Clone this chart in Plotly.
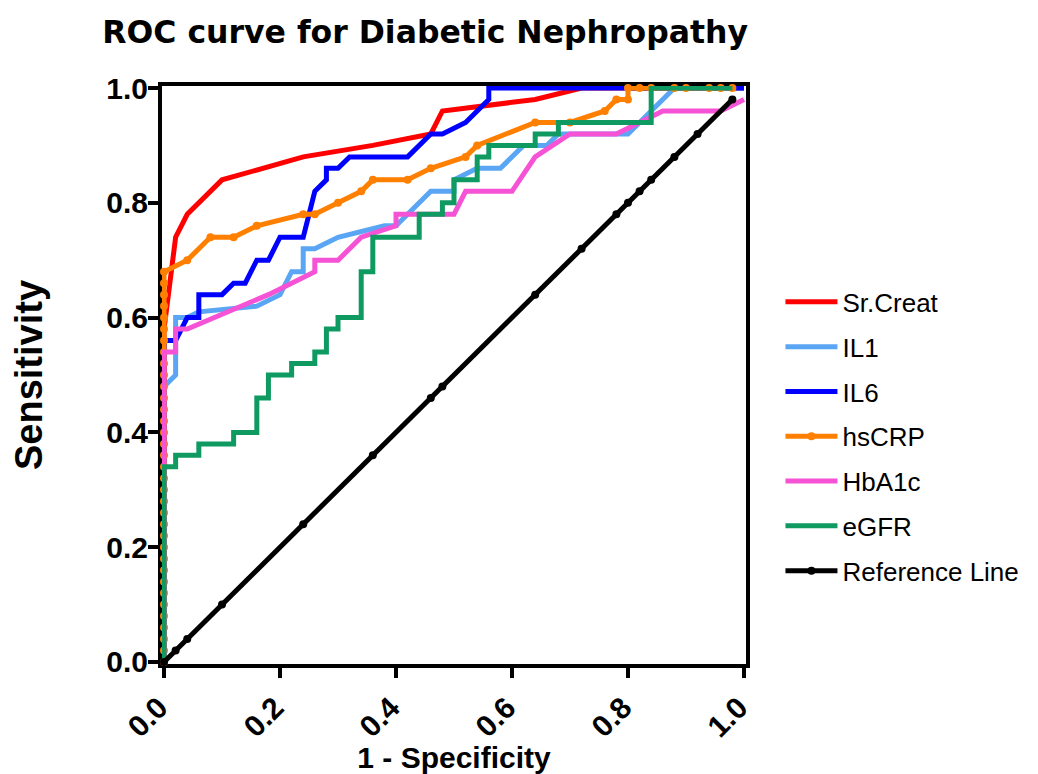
import plotly.graph_objects as go

# ---- data ----
sr_creat_x = [0, 0, 0.02, 0.04, 0.10, 0.24, 0.36, 0.46, 0.48, 0.64, 0.72, 1.0]
sr_creat_y = [0, 0.58, 0.74, 0.78, 0.84, 0.88, 0.90, 0.92, 0.96, 0.98, 1.0, 1.0]

il1_x = [0, 0, 0.02, 0.02, 0.04, 0.06, 0.16, 0.20, 0.22, 0.24, 0.24, 0.26, 0.30, 0.38, 0.40,
         0.46, 0.50, 0.50, 0.54, 0.58, 0.62, 0.66, 0.68, 0.80, 0.84, 0.88, 1.0]
il1_y = [0, 0.48, 0.50, 0.60, 0.60, 0.61, 0.62, 0.64, 0.68, 0.68, 0.72, 0.72, 0.74, 0.76, 0.76,
         0.82, 0.82, 0.84, 0.86, 0.86, 0.90, 0.90, 0.92, 0.92, 0.96, 1.0, 1.0]

il6_x = [0, 0, 0.02, 0.04, 0.06, 0.06, 0.10, 0.12, 0.14, 0.16, 0.18, 0.20, 0.24, 0.25, 0.26,
         0.28, 0.28, 0.30, 0.32, 0.42, 0.46, 0.48, 0.52, 0.56, 0.56, 1.0]
il6_y = [0, 0.56, 0.56, 0.60, 0.60, 0.64, 0.64, 0.66, 0.66, 0.70, 0.70, 0.74, 0.74, 0.78, 0.82,
         0.84, 0.86, 0.86, 0.88, 0.88, 0.92, 0.92, 0.94, 0.98, 1.0, 1.0]

hscrp_x = [0, 0, 0, 0, 0, 0, 0, 0, 0, 0, 0, 0, 0, 0, 0, 0, 0, 0, 0, 0, 0, 0, 0, 0, 0, 0, 0, 0,
           0, 0, 0, 0, 0, 0, 0,
           0.04, 0.08, 0.12, 0.16, 0.24, 0.26, 0.30, 0.34, 0.36, 0.42, 0.46, 0.52, 0.54, 0.64,
           0.70, 0.76, 0.78, 0.80, 0.80, 0.82, 0.84, 0.88, 0.90, 0.94, 0.96, 0.98]
hscrp_y = [0, 0.02, 0.04, 0.06, 0.08, 0.10, 0.12, 0.14, 0.16, 0.18, 0.20, 0.22, 0.24, 0.26,
           0.28, 0.30, 0.32, 0.34, 0.36, 0.38, 0.40, 0.42, 0.44, 0.46, 0.48, 0.50, 0.52, 0.54,
           0.56, 0.58, 0.60, 0.62, 0.64, 0.66, 0.68,
           0.70, 0.74, 0.74, 0.76, 0.78, 0.78, 0.80, 0.82, 0.84, 0.84, 0.86, 0.88, 0.90, 0.94,
           0.94, 0.96, 0.98, 0.98, 1.0, 1.0, 1.0, 1.0, 1.0, 1.0, 1.0, 1.0]

hba1c_x = [0, 0, 0.02, 0.02, 0.04, 0.12, 0.18, 0.26, 0.26, 0.30, 0.34, 0.40, 0.40, 0.50, 0.52,
           0.60, 0.64, 0.70, 0.78, 0.86, 0.96, 1.0]
hba1c_y = [0, 0.54, 0.54, 0.58, 0.58, 0.615, 0.64, 0.68, 0.70, 0.70, 0.74, 0.76, 0.78, 0.78, 0.82,
           0.82, 0.88, 0.92, 0.92, 0.96, 0.96, 0.98]

egfr_x = [0, 0, 0.02, 0.02, 0.06, 0.06, 0.12, 0.12, 0.16, 0.16, 0.18, 0.18, 0.22, 0.22, 0.26,
          0.26, 0.28, 0.28, 0.30, 0.30, 0.34, 0.34, 0.36, 0.36, 0.44, 0.44, 0.48, 0.48, 0.50,
          0.50, 0.54, 0.54, 0.56, 0.56, 0.64, 0.64, 0.68, 0.68, 0.84, 0.84, 0.98]
egfr_y = [0, 0.34, 0.34, 0.36, 0.36, 0.38, 0.38, 0.40, 0.40, 0.46, 0.46, 0.50, 0.50, 0.52, 0.52,
          0.54, 0.54, 0.58, 0.58, 0.60, 0.60, 0.68, 0.68, 0.74, 0.74, 0.78, 0.78, 0.80, 0.80,
          0.84, 0.84, 0.88, 0.88, 0.90, 0.90, 0.92, 0.92, 0.94, 0.94, 1.0, 1.0]

ref_x = [0, 0.02, 0.04, 0.10, 0.24, 0.36, 0.46, 0.48, 0.64, 0.72, 0.78, 0.80, 0.82, 0.84, 0.88,
         0.92, 0.98]
ref_y = [0, 0.02, 0.04, 0.10, 0.24, 0.36, 0.46, 0.48, 0.64, 0.72, 0.78, 0.80, 0.82, 0.84, 0.88,
         0.92, 0.98]

x_ticks = [0.0, 0.2, 0.4, 0.6, 0.8, 1.0]
x_tick_labels = ["0.0", "0.2", "0.4", "0.6", "0.8", "1.0"]
y_ticks = [0.0, 0.2, 0.4, 0.6, 0.8, 1.0]
y_tick_labels = ["0.0", "0.2", "0.4", "0.6", "0.8", "1.0"]

series = [
    ("Sr.Creat", sr_creat_x, sr_creat_y, "#FF0000", False),
    ("IL1", il1_x, il1_y, "#5AA6F4", False),
    ("IL6", il6_x, il6_y, "#0000FF", False),
    ("hsCRP", hscrp_x, hscrp_y, "#FF8000", True),
    ("HbA1c", hba1c_x, hba1c_y, "#F652D6", False),
    ("eGFR", egfr_x, egfr_y, "#0F9A62", False),
    ("Reference Line", ref_x, ref_y, "#000000", True),
]

fig = go.Figure()
for i, (name, xs, ys, color, markers) in enumerate(series):
    fig.add_trace(go.Scatter(
        x=xs, y=ys, name=name,
        mode="lines+markers" if markers else "lines",
        line=dict(color=color, width=5),
        marker=dict(color=color, size=8, symbol="circle"),
        legendgroup="g%d" % i,
        cliponaxis=False,
    ))

AX_FONT = dict(family="Liberation Sans, Arial, sans-serif", size=30, color="black", weight="bold")

# the page body adds an 8 px offset, so the figure is 8 px smaller on each axis
fig.update_layout(
    width=1030, height=766, autosize=False,
    paper_bgcolor="white", plot_bgcolor="white",
    margin=dict(l=154, r=292, t=78, b=110, autoexpand=False),
    title=dict(
        text="ROC curve for Diabetic Nephropathy",
        font=dict(family="DejaVu Sans, sans-serif", size=31.5, color="black", weight="bold"),
        x=0.405, xref="container", xanchor="center",
        y=1 - 23.5 / 766, yref="container", yanchor="middle",
        automargin=False,
    ),
    showlegend=True,
    legend=dict(
        x=1.059, xanchor="left", y=0.667, yanchor="top",
        font=dict(family="Liberation Sans, Arial, sans-serif", size=26, color="black"),
        tracegroupgap=8, itemwidth=52, bgcolor="rgba(0,0,0,0)",
    ),
    xaxis=dict(
        range=[-0.0035, 1.0035], tickvals=x_ticks, ticktext=x_tick_labels,
        tickangle=-45, ticks="outside", ticklen=10, tickwidth=4, tickcolor="black",
        ticklabelshift=-5,
        showline=True, linewidth=4, linecolor="black", mirror=True,
        showgrid=False, zeroline=False, layer="below traces", automargin=False,
        tickfont=AX_FONT,
        title=dict(text="1 - Specificity", standoff=0,
                   font=dict(family="Liberation Sans, Arial, sans-serif", size=30,
                             color="black", weight="bold")),
    ),
    yaxis=dict(
        range=[-0.0035, 1.0035], tickvals=y_ticks, ticktext=y_tick_labels,
        ticks="outside", ticklen=10, tickwidth=4, tickcolor="black",
        ticklabelstandoff=-6,
        showline=True, linewidth=4, linecolor="black", mirror=True,
        showgrid=False, zeroline=False, layer="below traces", automargin=False,
        tickfont=AX_FONT,
        title=dict(text="Sensitivity", standoff=56,
                   font=dict(family="Liberation Sans, Arial, sans-serif", size=38,
                             color="black", weight="bold")),
    ),
)

fig.write_html("out.html")
